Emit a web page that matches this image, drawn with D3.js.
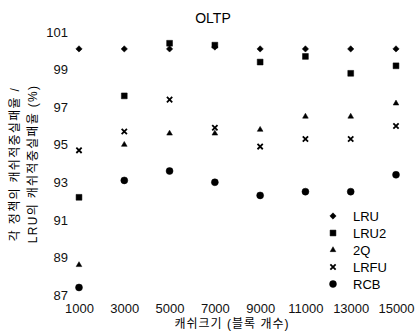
<!DOCTYPE html>
<html>
<head>
<meta charset="utf-8">
<script src="https://d3js.org/d3.v7.min.js"></script>
<style>
  body { margin: 0; background: #fff; }
  svg { display: block; font-family: "Liberation Sans", "Noto Sans CJK KR", sans-serif; }
  .tick text { font-size: 13px; fill: #111; }
</style>
</head>
<body>
<div id="chart"></div>
<script>
// 캐쉬 크기 (블록 개수)
const cacheSizes = [1000, 3000, 5000, 7000, 9000, 11000, 13000, 15000];
const lru  = [100.1, 100.1, 100.1, 100.2, 100.1, 100.1, 100.1, 100.1];
const lru2 = [92.2, 97.6, 100.4, 100.3, 99.4, 99.7, 98.8, 99.2];
const q2   = [88.6, 95.0, 95.6, 95.6, 95.8, 96.5, 96.5, 97.2];
const lrfu = [94.7, 95.7, 97.4, 95.9, 94.9, 95.3, 95.3, 96.0];
const rcb  = [87.4, 93.1, 93.6, 93.0, 92.3, 92.5, 92.5, 93.4];
const yTicks = [87, 89, 91, 93, 95, 97, 99, 101];

const series = [
  { name: "LRU",  values: lru,  symbol: d3.symbolSquare,   size: 20, rot: 45 },
  { name: "LRU2", values: lru2, symbol: d3.symbolSquare,   size: 34, rot: 0 },
  { name: "2Q",   values: q2,   symbol: d3.symbolTriangle, size: 14, rot: 0 },
  { name: "LRFU", values: lrfu, symbol: d3.symbolCross2 || d3.symbolX, size: 20, rot: 0 },
  { name: "RCB",  values: rcb,  symbol: d3.symbolCircle,   size: 38, rot: 0 }
];

const W = 417, H = 336;
const svg = d3.select("#chart").append("svg").attr("width", W).attr("height", H);

const x = d3.scaleLinear().domain([1000, 15000]).range([79, 396]);
const y = d3.scaleLinear().domain([87, 101]).range([295, 32]);

// 제목
svg.append("text")
  .attr("x", 213).attr("y", 23)
  .attr("text-anchor", "middle")
  .style("font-size", "14px")
  .text("OLTP");

// 축 (선 없이 라벨만)
const yAxis = svg.append("g")
  .attr("transform", "translate(72,0)")
  .call(d3.axisLeft(y).tickValues(yTicks).tickSize(0).tickPadding(4));
yAxis.select(".domain").remove();

const xAxis = svg.append("g")
  .attr("transform", "translate(0,302)")
  .call(d3.axisBottom(x).tickValues(cacheSizes).tickSize(0).tickPadding(2).tickFormat(d3.format("d")));
xAxis.select(".domain").remove();

svg.append("text")
  .attr("x", 232).attr("y", 328)
  .attr("text-anchor", "middle")
  .style("font-size", "12px")
  .style("letter-spacing", "1px")
  .text("캐쉬크기 (블록 개수)");

// y축 제목 (두 줄)
const yt = svg.append("text")
  .attr("transform", "translate(0,164) rotate(-90)")
  .attr("text-anchor", "middle")
  .style("font-size", "12px")
  .style("letter-spacing", "1.3px");
yt.append("tspan").attr("x", 0).attr("y", 19).text("각 정책의 캐쉬적중실패율 /");
yt.append("tspan").attr("x", 0).attr("y", 37).text("LRU의 캐쉬적중실패율 (%)");

// 점
series.forEach(s => {
  const sym = d3.symbol().type(s.symbol).size(s.size);
  svg.append("g").selectAll("path")
    .data(s.values)
    .enter().append("path")
    .attr("d", sym)
    .attr("transform", (d, i) => "translate(" + x(cacheSizes[i]) + "," + y(d) + ") rotate(" + s.rot + ")")
    .attr("fill", s.name === "LRFU" ? "none" : "#000")
    .attr("stroke", "#000")
    .attr("stroke-width", s.name === "LRFU" ? 1.8 : 0.5);
});

// 범례
const legend = svg.append("g").attr("transform", "translate(333,216)");
series.forEach((s, i) => {
  const g = legend.append("g").attr("transform", "translate(0," + (i * 17) + ")");
  g.append("path")
    .attr("d", d3.symbol().type(s.symbol).size(s.size)())
    .attr("transform", "rotate(" + s.rot + ")")
    .attr("fill", s.name === "LRFU" ? "none" : "#000")
    .attr("stroke", "#000")
    .attr("stroke-width", s.name === "LRFU" ? 1.8 : 0.5);
  g.append("text")
    .attr("x", 20).attr("y", 5)
    .style("font-size", "13px")
    .text(s.name);
});
</script>
</body>
</html>
